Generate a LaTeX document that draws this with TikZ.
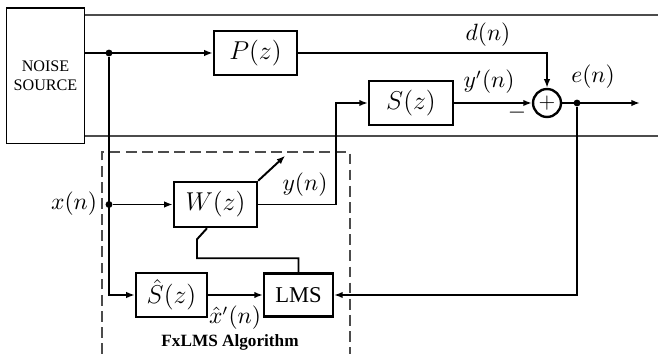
\documentclass[tikz,border=0pt]{standalone}
\usepackage{amsmath}
\usepackage{fontspec}
\newfontfamily\labelfont{Liberation Serif}
\usetikzlibrary{arrows.meta, positioning, calc}

\begin{document}
\begin{tikzpicture}[x=0.465pt, y=-0.465pt, line width=0.9pt,
  blk/.style={draw, line width=1.1pt, minimum width=38.6pt, minimum height=20.5pt, inner sep=0pt, font=\fontsize{13}{15}\selectfont},
  sig/.style={-{Latex[length=4pt,width=3pt]}},
  lbl/.style={font=\fontsize{10.5}{12}\selectfont},
  dot/.style={circle, fill, inner sep=0pt, minimum size=3.2pt},
  duct/.style={draw=black!70, line width=0.5pt}]
  \useasboundingbox (0,0) rectangle (658,354);

  % plant side
  \node[draw, line width=0.5pt, minimum width=31.2pt, minimum height=63.2pt, align=center,
        font=\labelfont\fontsize{7.5}{9}\selectfont] (noise) at (45.5,76) {NOISE\\SOURCE};
  \draw[duct] (noise.east |- 0,15) -- (658,15);
  \draw[duct] (noise.east |- 0,136) -- (658,136);
  \node[blk] (P) at (255.5,53) {$P(z)$};
  \node[blk, minimum width=39pt] (S) at (411,103) {$S(z)$};
  \node[draw, circle, line width=1.1pt, minimum size=13pt, inner sep=0pt] (sum) at (547,103) {$+$};
  \node[dot] (tap) at (109,53) {};
  \node[dot] (etap) at (577,103) {};
  \coordinate (out) at (640,103);

  % controller
  \draw[dashed, draw=black!70, line width=0.5pt, dash pattern=on 5pt off 2.5pt] (102,354) |- (350,152) -- (350,354);
  \node[blk, minimum width=38.6pt, minimum height=21pt] (W) at (215.5,204.5) {$W(z)$};
  \node[blk, minimum width=33pt] (Sh) at (171.5,295) {$\hat{S}(z)$};
  \node[blk, minimum width=32pt, minimum height=20pt, font=\labelfont\fontsize{10.5}{12}\selectfont] (lms) at (298.5,295) {LMS};
  \node[dot] (xtap) at (109,204.5) {};
  \coordinate (ycol) at (336,0);

  % connectors
  \draw[sig] (noise.east |- P.west) -- (P.west);
  \draw[sig] (P.east) -| (sum.north);
  \draw[sig] (S.east) -- (sum.west);
  \draw[sig] (sum.east) -- (out);
  \draw[sig] (etap) |- (lms.east);
  \draw[sig] (tap) |- (Sh.west);
  \draw[sig] (xtap) -- (W.west);
  \draw[sig] (W.east) -- (W.east -| ycol) |- (S.west);
  \draw[sig] (Sh.east) -- (lms.west);
  \draw (lms.north) |- ($(W.south)+(-18.5,30)$) -- ++(0,-19) -- ($(W.south)+(-8.5,0)$);
  \draw[sig] (W.north east) -- ++(27,-25);

  % labels
  \node[lbl] at (488,35) {$d(n)$};
  \node[lbl] at (489,82) {$y'(n)$};
  \node[lbl] at (593,77) {$e(n)$};
  \node[lbl] at (517,113) {$-$};
  \node[lbl] at (74,204) {$x(n)$};
  \node[lbl] at (305,185) {$y(n)$};
  \node[lbl] at (235,318) {$\hat{x}'(n)$};
  \node[font=\labelfont\bfseries\fontsize{8}{10}\selectfont] at (230,342) {FxLMS Algorithm};
\end{tikzpicture}
\end{document}
